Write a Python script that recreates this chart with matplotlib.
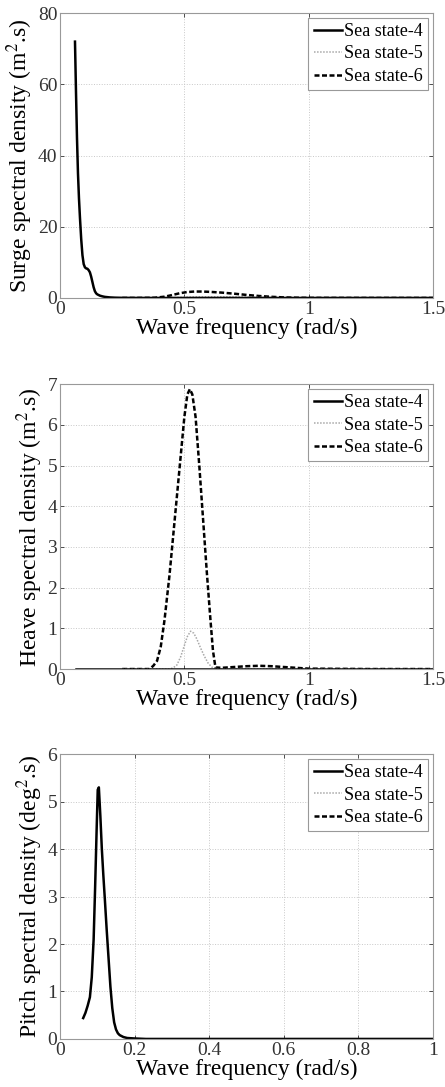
import matplotlib
matplotlib.use("Agg")
import matplotlib.pyplot as plt

plt.rcParams['font.family'] = ['Liberation Serif', 'DejaVu Serif']
plt.rcParams['mathtext.fontset'] = 'stix'

legend_labels = ['Sea state-4', 'Sea state-5', 'Sea state-6']

# surge spectral density (m^2.s)
surge_x4 = [0.060, 0.064, 0.068, 0.072, 0.076, 0.080, 0.085, 0.090, 0.095, 0.100, 0.105,
            0.110, 0.115, 0.120, 0.125, 0.130, 0.135, 0.140, 0.145, 0.150, 0.160, 0.170,
            0.180, 0.200, 0.220, 0.250, 0.300, 0.400, 0.600, 0.800, 1.000, 1.250, 1.500]
surge_y4 = [72.0, 58.0, 45.0, 35.0, 28.0, 22.5, 16.5, 12.0, 9.5, 8.6, 8.3,
            8.2, 7.8, 7.2, 6.0, 4.5, 3.0, 1.9, 1.3, 1.0, 0.65, 0.45,
            0.30, 0.15, 0.08, 0.03, 0.01, 0.0, 0.0, 0.0, 0.0, 0.0, 0.0]
surge_x5 = [0.250, 0.300, 0.400, 0.450, 0.500, 0.550, 0.600, 0.650, 0.700, 0.750,
            0.800, 0.850, 0.900, 0.950, 1.000, 1.250, 1.500]
surge_y5 = [0.0, 0.0, 0.02, 0.08, 0.20, 0.30, 0.33, 0.32, 0.28, 0.22,
            0.16, 0.10, 0.06, 0.03, 0.01, 0.0, 0.0]
surge_x6 = [0.250, 0.300, 0.380, 0.420, 0.450, 0.480, 0.510, 0.540, 0.570, 0.600, 0.650,
            0.700, 0.750, 0.800, 0.850, 0.900, 0.950, 1.000, 1.250, 1.500]
surge_y6 = [0.0, 0.0, 0.05, 0.35, 0.80, 1.30, 1.65, 1.80, 1.80, 1.72, 1.50,
            1.20, 0.85, 0.55, 0.32, 0.15, 0.06, 0.02, 0.0, 0.0]

# heave spectral density (m^2.s)
heave_x4 = [0.065, 0.250, 0.500, 0.750, 1.000, 1.250, 1.500]
heave_y4 = [0.0, 0.0, 0.0, 0.0, 0.0, 0.0, 0.0]
heave_x5 = [0.250, 0.440, 0.455, 0.470, 0.485, 0.500, 0.512, 0.525, 0.538, 0.550,
            0.565, 0.580, 0.595, 0.610, 0.625, 0.700, 1.000, 1.500]
heave_y5 = [0.0, 0.0, 0.03, 0.10, 0.30, 0.58, 0.80, 0.93, 0.88, 0.74,
            0.52, 0.32, 0.15, 0.05, 0.0, 0.0, 0.0, 0.0]
heave_x6 = [0.250, 0.360, 0.375, 0.390, 0.405, 0.420, 0.440, 0.460, 0.480, 0.500,
            0.512, 0.522, 0.532, 0.545, 0.560, 0.575, 0.590, 0.605, 0.615, 0.625,
            0.650, 0.700, 0.750, 0.800, 0.850, 0.900, 0.950, 1.000, 1.250, 1.500]
heave_y6 = [0.0, 0.0, 0.08, 0.20, 0.55, 1.20, 2.30, 3.60, 4.90, 6.20,
            6.75, 6.88, 6.75, 6.20, 5.00, 3.70, 2.40, 1.20, 0.45, 0.04,
            0.03, 0.05, 0.07, 0.08, 0.07, 0.05, 0.03, 0.01, 0.0, 0.0]

# pitch spectral density (deg^2.s)
pitch_x4 = [0.062, 0.068, 0.074, 0.080, 0.085, 0.090, 0.094, 0.098, 0.101, 0.104,
            0.108, 0.112, 0.116, 0.120, 0.125, 0.130, 0.135, 0.140, 0.145, 0.150,
            0.155, 0.160, 0.170, 0.180, 0.200, 0.230, 0.300, 0.500, 0.700, 1.000]
pitch_y4 = [0.44, 0.55, 0.70, 0.88, 1.30, 2.10, 3.20, 4.40, 5.25, 5.30,
            4.70, 4.00, 3.45, 2.95, 2.30, 1.70, 1.10, 0.65, 0.35, 0.20,
            0.12, 0.08, 0.04, 0.02, 0.01, 0.0, 0.0, 0.0, 0.0, 0.0]
pitch_x5 = [0.200, 0.400, 0.600, 0.800, 1.000]
pitch_y5 = [0.0, 0.0, 0.0, 0.0, 0.0]
pitch_x6 = [0.200, 0.400, 0.600, 0.800, 1.000]
pitch_y6 = [0.0, 0.0, 0.0, 0.0, 0.0]

panels = [
    ([(surge_x4, surge_y4), (surge_x5, surge_y5), (surge_x6, surge_y6)],
     'Surge spectral density (m$^{2}$.s)', (0, 1.5), [0, 0.5, 1, 1.5], ['0', '0.5', '1', '1.5'],
     (0, 80), [0, 20, 40, 60, 80]),
    ([(heave_x4, heave_y4), (heave_x5, heave_y5), (heave_x6, heave_y6)],
     'Heave spectral density (m$^{2}$.s)', (0, 1.5), [0, 0.5, 1, 1.5], ['0', '0.5', '1', '1.5'],
     (0, 7), [0, 1, 2, 3, 4, 5, 6, 7]),
    ([(pitch_x4, pitch_y4), (pitch_x5, pitch_y5), (pitch_x6, pitch_y6)],
     'Pitch spectral density (deg$^{2}$.s)', (0, 1), [0, 0.2, 0.4, 0.6, 0.8, 1],
     ['0', '0.2', '0.4', '0.6', '0.8', '1'],
     (0, 6), [0, 1, 2, 3, 4, 5, 6]),
]

styles = [dict(color='black', lw=1.8, ls='-'),
          dict(color='#a8a8a8', lw=1.1, ls=(0, (1, 1))),
          dict(color='black', lw=1.8, ls=(0, (2, 1)))]

fig = plt.figure(figsize=(4.45, 10.87), dpi=100)
bottoms = [0.7259, 0.3845, 0.0442]

for (series, ylab, xlim, xt, xtl, ylim, yt), b in zip(panels, bottoms):
    ax = fig.add_axes([0.135, b, 0.838, 0.262])
    # draw 6, 5, then 4 on top
    handles = [None, None, None]
    for k in [2, 1, 0]:
        xs, ys = series[k]
        h, = ax.plot(xs, ys, label=legend_labels[k], **styles[k])
        handles[k] = h
    ax.set_xlim(*xlim)
    ax.set_ylim(*ylim)
    ax.set_xticks(xt)
    ax.set_xticklabels(xtl)
    ax.set_yticks(yt)
    ax.grid(True, color='#c8c8c8', ls=':', lw=0.7)
    ax.tick_params(direction='in', top=True, right=True, length=3, width=0.6,
                   colors='#333333', labelsize=14, pad=2)
    for sp in ax.spines.values():
        sp.set_color('#999999')
        sp.set_linewidth(0.8)
    ax.set_xlabel('Wave frequency (rad/s)', fontsize=17, labelpad=0)
    ax.set_ylabel(ylab, fontsize=17, labelpad=2)
    leg = ax.legend(handles, legend_labels, loc='upper right', fontsize=13,
                    handlelength=1.6, handletextpad=0.1, borderpad=0.3,
                    labelspacing=0.3, borderaxespad=0.25, fancybox=False,
                    framealpha=1)
    leg.get_frame().set_edgecolor('#999999')
    leg.get_frame().set_linewidth(0.8)

fig.savefig('out.png', dpi=100)
